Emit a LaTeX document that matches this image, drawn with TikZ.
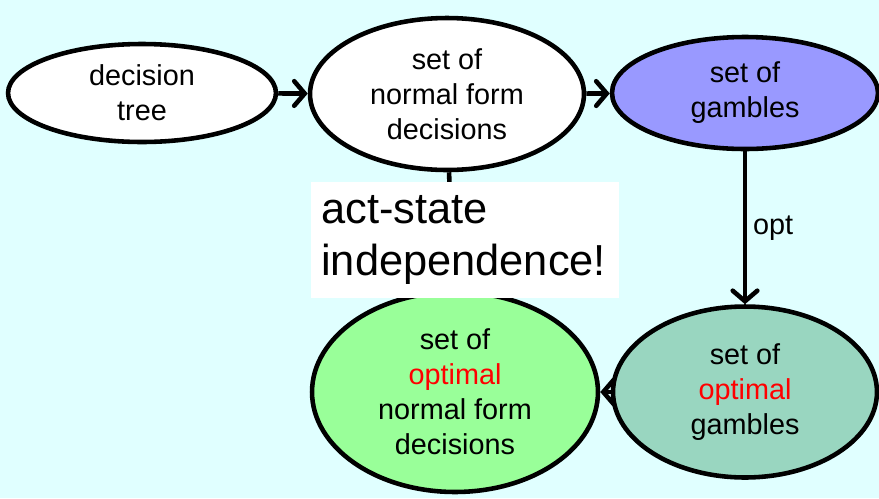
\documentclass[tikz,border=0pt]{standalone}
\usepackage{fontspec}
\setmainfont{Liberation Sans}
\usetikzlibrary{shapes.geometric,arrows.meta}
\definecolor{bgcyan}{RGB}{224,255,255}
\definecolor{gamblue}{RGB}{153,153,255}
\definecolor{optteal}{RGB}{153,214,192}
\definecolor{optgreen}{RGB}{153,255,153}
\begin{document}
\begin{tikzpicture}[x=0.02cm, y=-0.02cm, auto,
node_style/.style={ellipse,draw=black,line width=2.6pt,fill=white,inner sep=0pt,align=center,font=\fontsize{16.4}{19.9}\selectfont},
edge_style/.style={draw=black, line width=2.6pt, -{Straight Barb[length=6pt,width=14pt,line cap=round]}},
line_style/.style={draw=black, line width=2.6pt},
note_style/.style={fill=white,inner xsep=0.2cm,text width=5.75cm,minimum width=6.16cm,minimum height=2.32cm,align=left,font=\fontsize{24.7}{30}\selectfont}]
\fill[bgcyan] (0,0) rectangle (879,498);
\useasboundingbox (0,0) rectangle (879,498);
\node[node_style,minimum width=5.36cm,minimum height=1.96cm] (dt) at (142,93) {decision\\tree};
\node[node_style,minimum width=5.48cm,minimum height=3.04cm] (nf) at (447,94) {set of\\normal form\\decisions};
\node[node_style,fill=gamblue,minimum width=5.32cm,minimum height=2.24cm] (gam) at (745,93) {set of\\gambles};
\node[node_style,fill=optteal,minimum width=5.28cm,minimum height=3.42cm] (optgam) at (745,392) {set of\\\textcolor{red}{optimal}\\gambles};
\node[node_style,fill=optgreen,minimum width=5.72cm,minimum height=4.0cm] (optnf) at (455,392) {set of\\\textcolor{red}{optimal}\\normal form\\decisions};

\draw[edge_style]  (dt) -- (nf);
\draw[edge_style]  (nf) -- (gam);
\draw[edge_style]  (gam) edge node{\fontsize{16.4}{19.9}\selectfont opt} (optgam);
\draw[edge_style]  (optgam) -- (optnf);
\draw[line_style]  (nf) -- (optnf);
\node[note_style] (asi) at (465,240) {act-state\\independence!};
\end{tikzpicture}
\end{document}
